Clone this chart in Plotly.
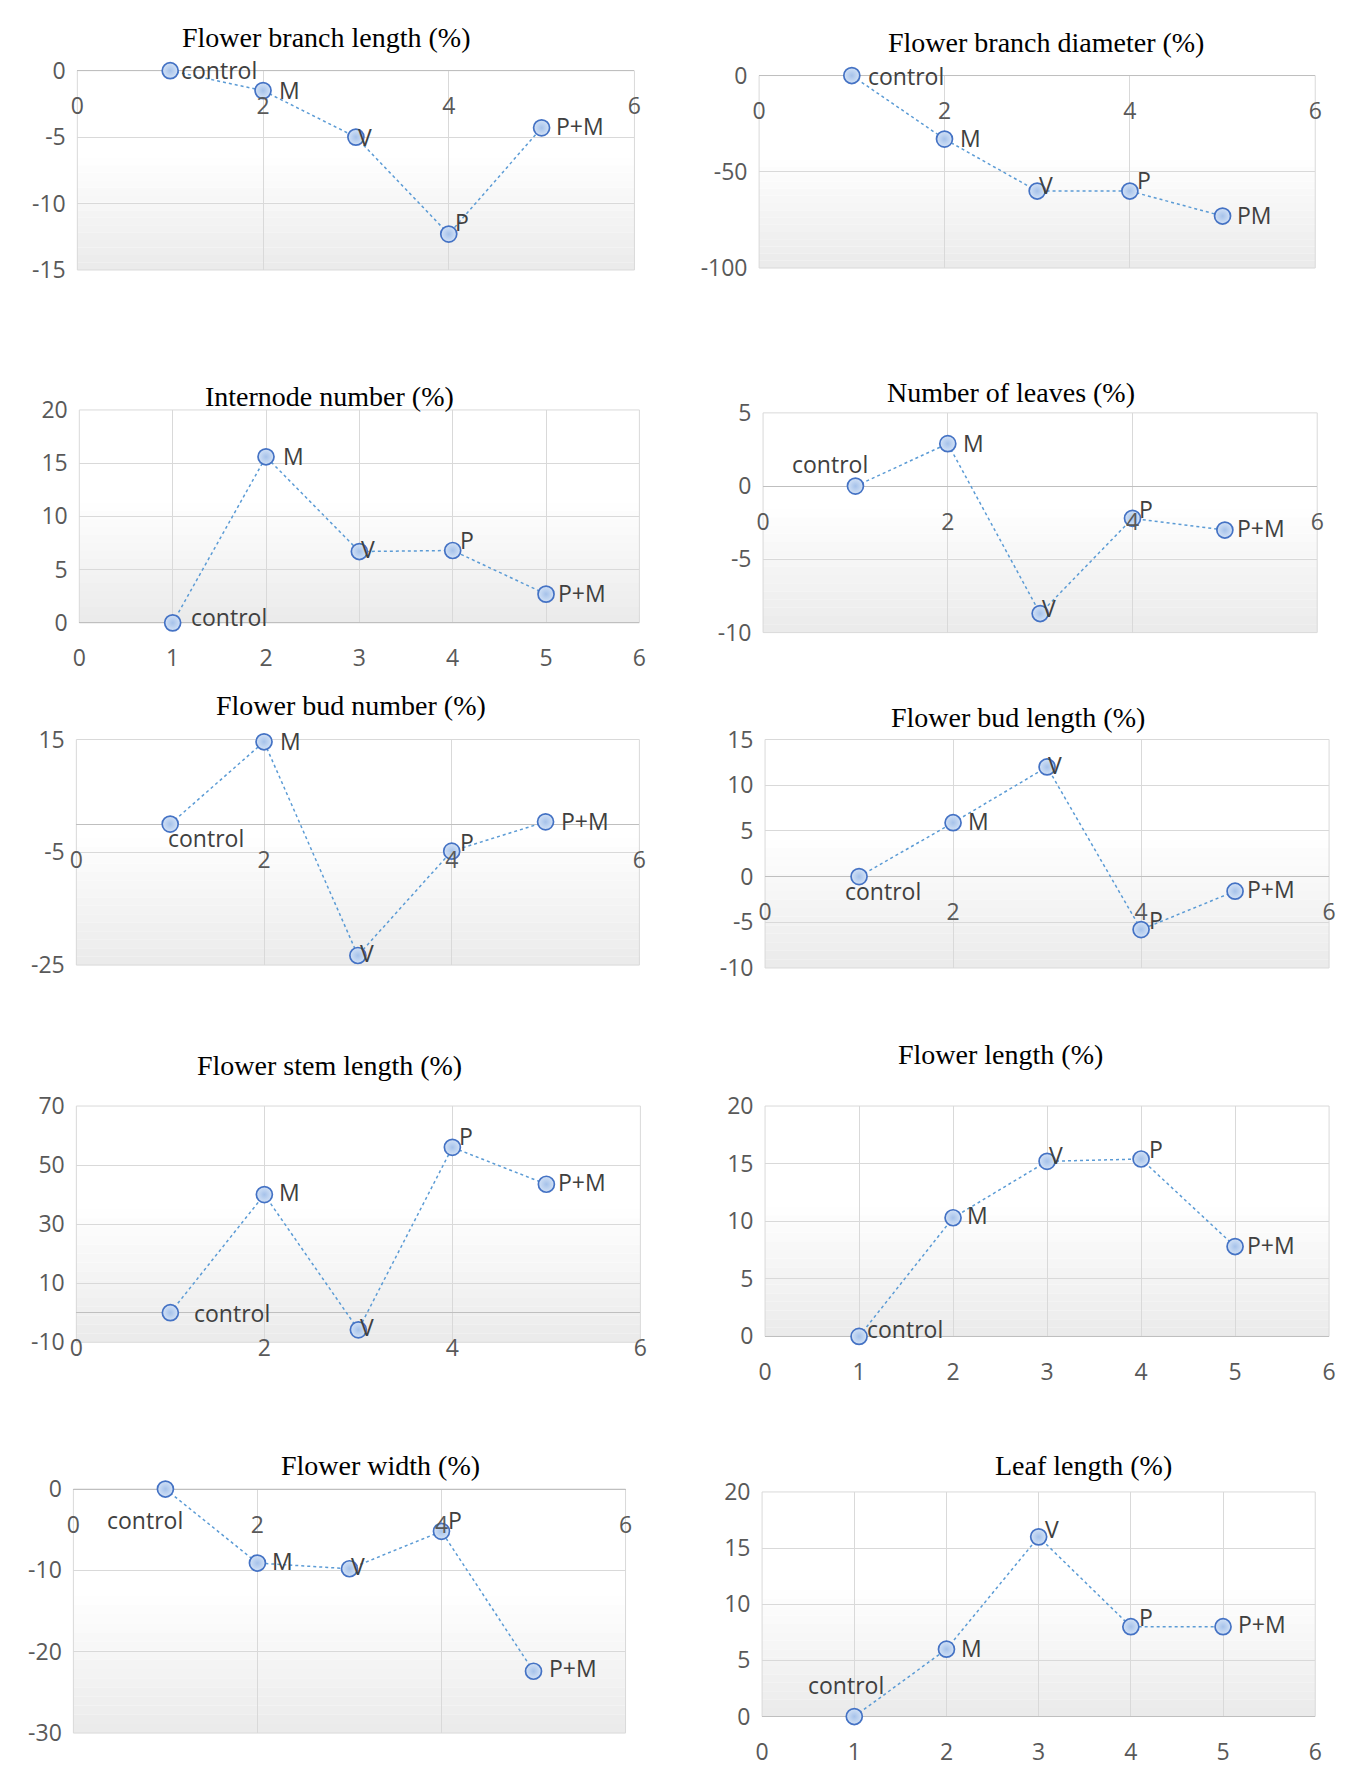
import plotly.graph_objects as go

# figure sized so that it fits inside the page body margins (8px) of the 1352x1775 window
W, H = 1336, 1759

# ---------------- data ----------------
treatment_x = [1, 2, 3, 4, 5]
labels_std = ["control", "M", "V", "P", "P+M"]
labels_pm = ["control", "M", "V", "P", "PM"]

flower_branch_length = [0, -1.5, -5.0, -12.3, -4.3]
flower_branch_diameter = [0, -33, -60, -60, -73]
internode_number = [0, 15.6, 6.7, 6.8, 2.7]
number_of_leaves = [0, 2.9, -8.7, -2.2, -3.0]
flower_bud_number = [0, 14.6, -23.3, -4.8, 0.4]
flower_bud_length = [0, 5.9, 12.0, -5.8, -1.6]
flower_stem_length = [0, 40, -5.8, 56, 43.5]
flower_length = [0, 10.3, 15.2, 15.4, 7.8]
flower_width = [0, -9.1, -9.8, -5.2, -22.4]
leaf_length = [0, 6.0, 16.0, 8.0, 8.0]

titles = ["Flower branch length (%)", "Flower branch diameter (%)",
          "Internode number (%)", "Number of leaves (%)",
          "Flower bud number (%)", "Flower bud length (%)",
          "Flower stem length (%)", "Flower length (%)",
          "Flower width (%)", "Leaf length (%)"]

series = [flower_branch_length, flower_branch_diameter, internode_number,
          number_of_leaves, flower_bud_number, flower_bud_length,
          flower_stem_length, flower_length, flower_width, leaf_length]
series_labels = [labels_std, labels_pm] + [labels_std] * 8

y_ranges = [(-15, 0), (-100, 0), (0, 20), (-10, 5), (-25, 15),
            (-10, 15), (-10, 70), (0, 20), (-30, 0), (0, 20)]
y_ticks = [[-15, -10, -5, 0], [-100, -50, 0], [0, 5, 10, 15, 20],
           [-10, -5, 0, 5], [-25, -5, 15], [-10, -5, 0, 5, 10, 15],
           [-10, 10, 30, 50, 70], [0, 5, 10, 15, 20], [-30, -20, -10, 0],
           [0, 5, 10, 15, 20]]
x_range = (0, 6)
x_ticks_2 = [0, 2, 4, 6]
x_ticks_1 = [0, 1, 2, 3, 4, 5, 6]
x_ticks = [x_ticks_2, x_ticks_2, x_ticks_1, x_ticks_2, x_ticks_2,
           x_ticks_2, x_ticks_2, x_ticks_1, x_ticks_2, x_ticks_1]

# ---------------- layout / style (pixels, figure coordinates) ----------------
# plot boxes: x0, x1, ytop, ybottom
boxes = [
    (63, 626, 47, 252), (752, 1314, 52, 250),
    (65, 631, 396, 615), (756, 1316, 399, 625),
    (62, 631, 735, 967), (758, 1328, 735, 970),
    (62, 632, 1112, 1355), (758, 1328, 1112, 1349),
    (59, 617, 1506, 1757), (755, 1314, 1509, 1740),
]
title_pos = [(314, 13), (1042, 18), (318, 382), (1007, 378), (340, 700),
             (1014, 712), (318, 1070), (996, 1059), (369, 1482), (1080, 1482)]

# data-label placement per point: (xanchor, dx, dy) in px, dy positive = down
label_place = [
    [("left", 9, -1), ("left", 14, -1), ("left", 0, 0), ("left", 4, -12), ("left", 12, -2)],
    [("left", 14, 0), ("left", 14, -1), ("left", 0, -6), ("left", 5, -11), ("left", 12, -1)],
    [("left", 16, -6), ("left", 15, -1), ("left", 0, -3), ("left", 5, -10), ("left", 10, -1)],
    [("center", -25, -22), ("left", 13, -1), ("left", 0, -6), ("left", 5, -9), ("left", 10, -2)],
    [("left", -4, 14), ("left", 14, -1), ("left", 0, -2), ("left", 6, -9), ("left", 13, -1)],
    [("left", -16, 14), ("left", 13, -2), ("left", -1, -2), ("left", 6, -10), ("left", 10, -2)],
    [("left", 22, 0), ("left", 13, -3), ("left", 0, -3), ("left", 5, -11), ("left", 10, -2)],
    [("left", 6, -7), ("left", 12, -3), ("left", 0, -6), ("left", 6, -10), ("left", 10, -2)],
    [("center", -20, 31), ("left", 13, -2), ("left", 0, -3), ("left", 5, -11), ("left", 13, -3)],
    [("center", -8, -32), ("left", 13, -1), ("left", 4, -8), ("left", 6, -10), ("left", 13, -3)],
]

SANS = "Open Sans"
SERIF = "Liberation Serif"
GRID = "#d9d9d9"
LABEL_COLOR = "#595959"

fig = go.Figure()
shapes = []
annotations = []
layout_axes = {}

for i in range(10):
    k = i + 1
    xs = "" if k == 1 else str(k)
    x0, x1, yt, yb = boxes[i]
    xd = [x0 / W, x1 / W]
    yd = [1 - yb / H, 1 - yt / H]
    ymin, ymax = y_ranges[i]
    zero_pos = yd[0] + (0 - ymin) / (ymax - ymin) * (yd[1] - yd[0])

    fig.add_trace(go.Scatter(
        x=treatment_x, y=series[i],
        mode="lines+markers",
        line=dict(color="#5b9bd5", width=1.5, dash="dot"),
        marker=dict(size=16, color="#d3e2f6",
                    line=dict(color="#4472c4", width=1.7),
                    gradient=dict(type="radial", color="#a6c2ea")),
        xaxis="x" + xs, yaxis="y" + xs, cliponaxis=False,
        hoverinfo="skip",
    ))

    for xv, yv, lab, (anc, dx, dy) in zip(treatment_x, series[i],
                                            series_labels[i], label_place[i]):
        annotations.append(dict(
            x=xv, y=yv, xref="x" + xs, yref="y" + xs, text=lab,
            showarrow=False, xanchor=anc, yanchor="middle",
            xshift=dx, yshift=-dy,
            font=dict(family=SANS, size=23, color="#404040"),
        ))

    layout_axes["xaxis" + xs] = dict(
        domain=xd, range=list(x_range),
        tickvals=x_ticks[i], ticktext=[str(v) for v in x_ticks[i]],
        anchor="free", position=zero_pos, side="bottom",
        showgrid=True, gridcolor=GRID, gridwidth=1,
        showline=False, zeroline=False,
        ticks="outside", ticklen=15, tickcolor="rgba(0,0,0,0)",
        tickfont=dict(family=SANS, size=23, color=LABEL_COLOR),
        fixedrange=True,
    )
    layout_axes["yaxis" + xs] = dict(
        domain=yd, range=[ymin, ymax],
        tickvals=y_ticks[i], ticktext=[str(v) for v in y_ticks[i]],
        anchor="x" + xs,
        showgrid=True, gridcolor=GRID, gridwidth=1,
        zeroline=True, zerolinecolor="#bfbfbf", zerolinewidth=1.2,
        showline=False,
        ticks="outside", ticklen=6, tickcolor="rgba(0,0,0,0)",
        tickfont=dict(family=SANS, size=23, color=LABEL_COLOR),
        fixedrange=True,
    )

    # gradient plot-area background (white top, light grey bottom)
    n_bands = 16
    span = 0.6
    for b in range(n_bands):
        t = b / (n_bands - 1)
        g = int(round(235 + (255 - 235) * t))
        shapes.append(dict(
            type="rect", xref=f"x{xs} domain", yref=f"y{xs} domain",
            x0=0, x1=1, y0=span * b / n_bands, y1=span * (b + 1) / n_bands,
            fillcolor=f"rgb({g},{g},{g})", line=dict(width=0), layer="below",
        ))
    shapes.append(dict(
        type="rect", xref=f"x{xs} domain", yref=f"y{xs} domain",
        x0=0, x1=1, y0=0, y1=1, line=dict(color=GRID, width=1),
        fillcolor="rgba(0,0,0,0)", layer="below",
    ))

    tx, ty = title_pos[i]
    annotations.append(dict(
        text=titles[i], x=tx / W, y=1 - ty / H, xref="paper", yref="paper",
        xanchor="center", yanchor="middle", showarrow=False,
        font=dict(family=SERIF, size=28, color="#000000"),
    ))

fig.update_layout(
    width=W, height=H, margin=dict(l=0, r=0, t=0, b=0),
    paper_bgcolor="white", plot_bgcolor="white",
    showlegend=False, shapes=shapes, annotations=annotations,
    **layout_axes,
)

fig.write_html("out.html")
